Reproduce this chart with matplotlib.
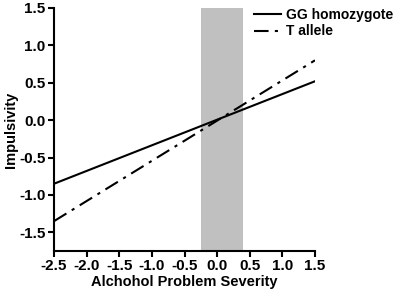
import numpy as np
import matplotlib
matplotlib.use('Agg')
import matplotlib.pyplot as plt

plt.rcParams['font.family'] = ['Liberation Sans', 'DejaVu Sans']
plt.rcParams['font.weight'] = 'bold'

# data
x_ends = [-2.5, 1.5]
gg_vals = [-0.85, 0.52]
t_vals = [-1.35, 0.80]
band = [-0.25, 0.40]
xticks = [-2.5, -2.0, -1.5, -1.0, -0.5, 0.0, 0.5, 1.0, 1.5]
yticks = [-1.5, -1.0, -0.5, 0.0, 0.5, 1.0, 1.5]

fig = plt.figure(figsize=(4.0, 2.94), dpi=100)
ax = fig.add_axes([0.135, 0.146, 0.6525, 0.827])

ax.axvspan(band[0], band[1], color='#c0c0c0', lw=0, zorder=0)
ax.plot(x_ends, gg_vals, color='black', lw=1.5, label='GG homozygote')
ax.plot(x_ends, t_vals, color='black', lw=1.5, dashes=(7, 3, 1.5, 3), label='T allele')

ax.set_xlim(-2.5, 1.5)
ax.set_ylim(-1.75, 1.5)
ax.set_xticks(xticks)
ax.set_yticks(yticks)
ax.set_xticklabels([f'{v:.1f}' for v in xticks])
ax.set_yticklabels([f'{v:.1f}' for v in yticks])

for s in ['top', 'right']:
    ax.spines[s].set_visible(False)
for s in ['left', 'bottom']:
    ax.spines[s].set_linewidth(1.5)
ax.tick_params(width=1.5, length=4, labelsize=11, pad=2)

ax.set_xlabel('Alchohol Problem Severity', fontsize=10.5, fontweight='bold', labelpad=1)
ax.set_ylabel('Impulsivity', fontsize=10.5, fontweight='bold', labelpad=1)

fig.legend(loc='upper left', bbox_to_anchor=(0.615, 1.0), frameon=False,
           fontsize=10, handlelength=1.9, handletextpad=0.4, labelspacing=0.15,
           borderaxespad=0.2)

fig.savefig('out.png', dpi=100)
